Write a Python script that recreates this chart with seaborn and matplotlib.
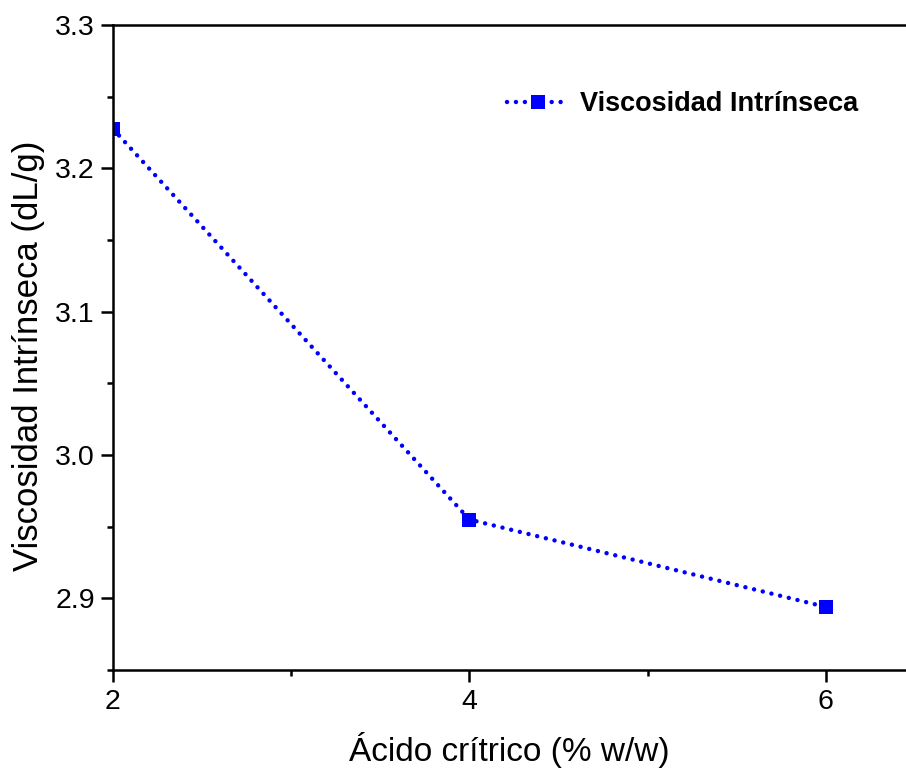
import matplotlib
matplotlib.use("Agg")
import matplotlib.pyplot as plt
from matplotlib.ticker import MultipleLocator, FormatStrFormatter
import seaborn as sns
import pandas as pd

acid_pct = [2, 4, 6]
intrinsic_visc = [3.2275, 2.955, 2.894]
series_name = "Viscosidad Intrínseca"
x_label = "Ácido crítrico (% w/w)"
y_label = "Viscosidad Intrínseca (dL/g)"

sns.set_theme(style="ticks")
plt.rcParams["font.family"] = ["Liberation Sans", "DejaVu Sans"]
plt.rcParams["text.color"] = "black"
plt.rcParams["axes.labelcolor"] = "black"

df = pd.DataFrame({"acid": acid_pct, "visc": intrinsic_visc})

fig = plt.figure(figsize=(9.06, 7.72), dpi=100)
ax = fig.add_axes([0.1247, 0.1321, 0.8753, 0.8355])

sns.lineplot(data=df, x="acid", y="visc", ax=ax, color="#0000ff",
             marker="s", markersize=10, markeredgewidth=0,
             linewidth=3.2, legend=False)
line = ax.lines[0]
line.set_linestyle((0, (0.01, 2.0)))
line.set_dash_capstyle("round")

ax.set_xlim(2, 6.45)
ax.set_ylim(2.85, 3.3)
ax.xaxis.set_major_locator(MultipleLocator(2))
ax.xaxis.set_minor_locator(MultipleLocator(1))
ax.yaxis.set_major_locator(MultipleLocator(0.1))
ax.yaxis.set_minor_locator(MultipleLocator(0.05))
ax.yaxis.set_major_formatter(FormatStrFormatter("%.1f"))

for s in ["left", "bottom", "top"]:
    ax.spines[s].set_linewidth(1.8)
    ax.spines[s].set_color("black")
ax.spines["right"].set_visible(False)

ax.tick_params(axis="both", which="major", direction="out", length=8.6,
               width=1.8, labelsize=20.5, colors="black", labelcolor="black")
ax.tick_params(axis="y", which="major", pad=4.5)
ax.tick_params(axis="x", which="major", pad=5)
ax.tick_params(axis="both", which="minor", direction="out", length=4,
               width=1.8, colors="black")
ax.tick_params(top=False, right=False, which="both")

ax.set_xlabel(x_label, fontsize=24, labelpad=12)
ax.set_ylabel(y_label, fontsize=25)
ax.yaxis.set_label_coords(-0.086, 0.487)

ax.legend(handles=[line], labels=[series_name], loc="center left",
          bbox_to_anchor=(0.497, 0.8775), frameon=False,
          borderpad=0, borderaxespad=0, labelcolor="black",
          prop={"weight": "bold", "size": 19.5}, handlelength=2.25,
          handletextpad=0.45, markerscale=1.0)

fig.savefig("out.png", dpi=100)
